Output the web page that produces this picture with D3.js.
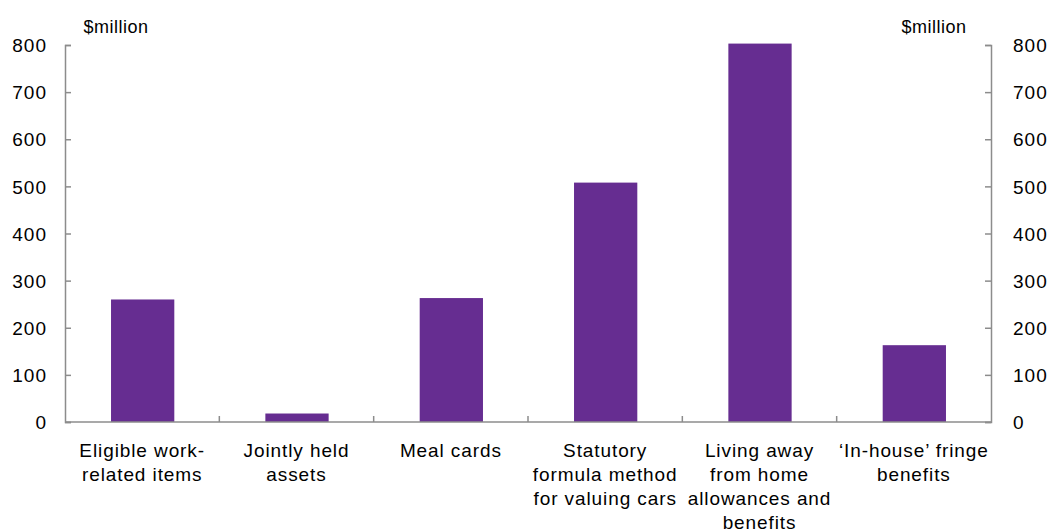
<!DOCTYPE html>
<meta charset="utf-8">
<style>
  body { margin: 0; background: #fff; }
  text { font-family: "Liberation Sans", Arial, sans-serif; fill: #000; }
  .axis path, .axis line { stroke: #8c8c8c; stroke-width: 1.5px; }
  .axis text { font-size: 19px; letter-spacing: 1px; }
</style>
<svg width="1052" height="531"></svg>
<script src="https://cdnjs.cloudflare.com/ajax/libs/d3/7.8.5/d3.min.js"></script>
<script>
  // categories (multi-line labels) and values in $million
  var categories = [
    ["Eligible work-", "related items"],
    ["Jointly held", "assets"],
    ["Meal cards"],
    ["Statutory", "formula method", "for valuing cars"],
    ["Living away", "from home", "allowances and", "benefits"],
    ["\u2018In-house\u2019 fringe", "benefits"]
  ];
  var values = [260, 18, 263, 508, 803, 163];
  var yTicks = [0, 100, 200, 300, 400, 500, 600, 700, 800];

  var svg = d3.select("svg"),
    plotL = 65, plotR = 991, plotT = 45, plotB = 422;

  var x = d3.scaleBand()
    .domain(d3.range(categories.length))
    .range([plotL, plotR])
    .padding(0);

  var y = d3.scaleLinear()
    .domain([0, 800])
    .range([plotB, plotT]);

  // bars
  var barW = x.bandwidth() * 0.41;
  svg.append("g").selectAll("rect")
    .data(values)
    .enter().append("rect")
    .attr("x", function (d, i) { return x(i) + (x.bandwidth() - barW) / 2 + 0.5; })
    .attr("y", function (d) { return y(d); })
    .attr("width", barW)
    .attr("height", function (d) { return plotB - y(d); })
    .attr("fill", "#662d91");

  // left axis, ticks pointing inwards
  var yl = svg.append("g")
    .attr("class", "axis")
    .attr("transform", "translate(" + plotL + ",0)")
    .call(d3.axisLeft(y).tickValues(yTicks).tickSizeInner(-6).tickSizeOuter(-6).tickPadding(18));
  yl.selectAll("text").attr("dy", "0.35em");

  // right axis
  var yr = svg.append("g")
    .attr("class", "axis")
    .attr("transform", "translate(" + plotR + ",0)")
    .call(d3.axisRight(y).tickValues(yTicks).tickSizeInner(-6).tickSizeOuter(-6).tickPadding(22));
  yr.selectAll("text").attr("dy", "0.35em");

  // category axis: ticks at band boundaries
  var xa = svg.append("g").attr("class", "axis");
  xa.append("line")
    .attr("x1", plotL).attr("x2", plotR)
    .attr("y1", plotB).attr("y2", plotB);
  xa.selectAll(".xt")
    .data(d3.range(1, categories.length))
    .enter().append("line")
    .attr("class", "xt")
    .attr("x1", function (i) { return x(i); })
    .attr("x2", function (i) { return x(i); })
    .attr("y1", plotB).attr("y2", plotB - 6);

  var labels = svg.append("g").selectAll("text")
    .data(categories)
    .enter().append("text")
    .attr("text-anchor", "middle")
    .style("font-size", "19px")
    .style("letter-spacing", "0.9px")
    .attr("transform", function (d, i) { return "translate(" + (x(i) + x.bandwidth() / 2) + "," + (plotB + 35) + ")"; });
  labels.selectAll("tspan")
    .data(function (d) { return d; })
    .enter().append("tspan")
    .attr("x", 0)
    .attr("y", function (d, j) { return j * 24; })
    .text(function (d) { return d; });

  // unit labels
  svg.append("text").attr("x", 116).attr("y", 33).attr("text-anchor", "middle")
    .style("font-size", "18px").style("letter-spacing", "0.5px").text("$million");
  svg.append("text").attr("x", 934).attr("y", 33).attr("text-anchor", "middle")
    .style("font-size", "18px").style("letter-spacing", "0.5px").text("$million");
</script>
